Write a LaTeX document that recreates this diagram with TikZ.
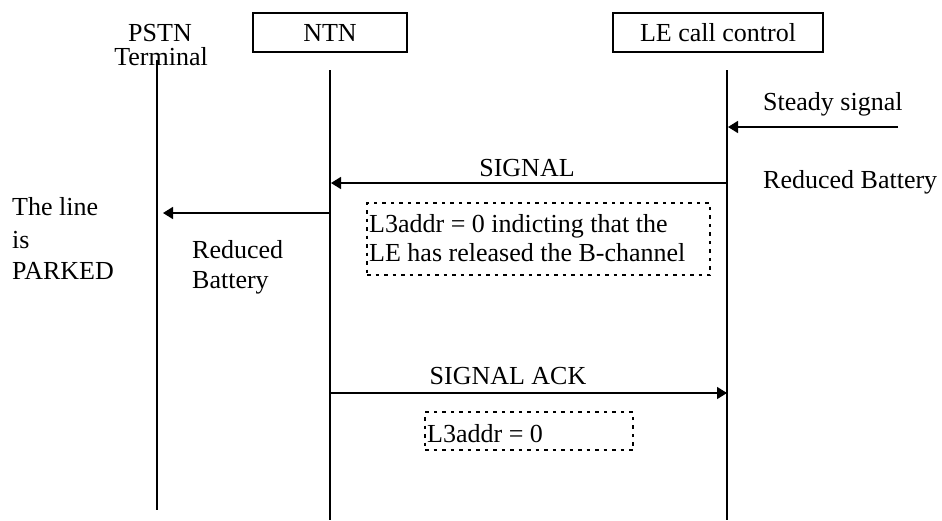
\documentclass[tikz,border=0pt]{standalone}
\usepackage{fontspec}
\setmainfont{Liberation Serif}
\usetikzlibrary{arrows.meta}
\tikzset{
  lbl/.style={inner sep=0pt, font=\fontsize{26}{31}\selectfont},
  actor/.style={draw, line width=1.4pt, inner sep=0pt, font=\fontsize{26}{31}\selectfont},
  lifeline/.style={line width=2pt},
  msg/.style={line width=1.5pt, -{Triangle[length=10pt,width=12pt]}},
  note/.style={draw, line width=1.6pt, dash pattern=on 3.5pt off 5pt, inner sep=0pt}
}
\begin{document}
\begin{tikzpicture}[x=1pt,y=-1pt]
\useasboundingbox (0,0) rectangle (942,520);
% actors
\node[lbl] (pstn) at (160,33) {PSTN};
\node[lbl, anchor=base] (term) at (161,65) {Terminal};
\node[actor, minimum width=154pt, minimum height=39pt] (ntn) at (330,32.5) {NTN};
\node[actor, minimum width=210pt, minimum height=39pt] (le) at (718,32.5) {LE call control};
% lifelines
\coordinate (pT) at (157,60); \coordinate (pB) at (157,510);
\coordinate (nT) at (330,70); \coordinate (nB) at (330,520);
\coordinate (lT) at (727,70); \coordinate (lB) at (727,520);
\draw[lifeline] (pT) -- (pB);
\draw[lifeline] (nT) -- (nB);
\draw[lifeline] (lT) -- (lB);
% message points
\coordinate (sS) at (898,127); \coordinate (sE) at (728,127);
\coordinate (l1) at (727,183); \coordinate (n1) at (331,183);
\coordinate (n2) at (330,213); \coordinate (p2) at (163,213);
\coordinate (n3) at (330,393); \coordinate (l3) at (727,393);
\draw[msg] (sS) -- (sE);
\draw[msg] (l1) -- (n1);
\draw[msg] (n2) -- (p2);
\draw[msg] (n3) -- (l3);
% labels
\node[lbl, anchor=base west] (steady) at (763,110) {Steady signal};
\node[lbl, anchor=base west] (rb1) at (763,188) {Reduced Battery};
\node[lbl, anchor=base] (sig) at (527,176) {SIGNAL};
\node[lbl, anchor=base] (sack) at (508,384) {SIGNAL ACK};
\node[lbl, anchor=base west] (park1) at (12,215) {The line};
\node[lbl, anchor=base west] (park2) at (12,248) {is};
\node[lbl, anchor=base west] (park3) at (12,279) {PARKED};
\node[lbl, anchor=base west] (rb2a) at (192,258) {Reduced};
\node[lbl, anchor=base west] (rb2b) at (192,288) {Battery};
% notes
\node[note, minimum width=343pt, minimum height=72pt] (note1) at (538.5,239) {};
\node[lbl, anchor=base west] (n1a) at (369,232) {L3addr = 0 indicting that the};
\node[lbl, anchor=base west] (n1b) at (369,261) {LE has released the B-channel};
\node[note, minimum width=208pt, minimum height=38pt] (note2) at (529,431) {};
\node[lbl, anchor=base west] (n2a) at (427,442) {L3addr = 0};
\end{tikzpicture}
\end{document}
